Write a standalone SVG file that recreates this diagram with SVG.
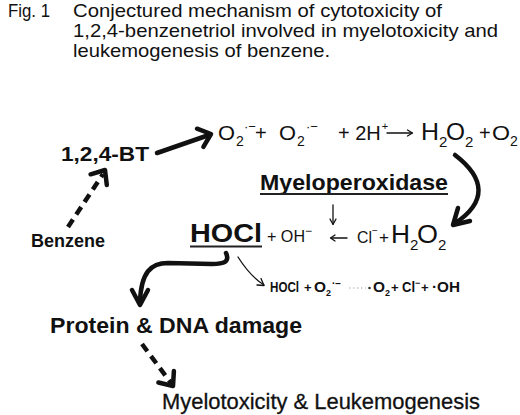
<svg xmlns="http://www.w3.org/2000/svg" width="520" height="415" viewBox="0 0 520 415">
<style>
text{font-family:"Liberation Sans",Arial,sans-serif;fill:#111}
.t{font-size:19px}
.b{font-weight:bold}
.thick{fill:none;stroke:#111;stroke-width:4.5;stroke-linecap:round;stroke-linejoin:round}
.dash{fill:none;stroke:#111;stroke-width:4.5;stroke-dasharray:9 6}
.thin{fill:none;stroke:#111;stroke-width:1.3;stroke-linecap:round;stroke-linejoin:round}
.ul{stroke:#222;stroke-width:2}
</style>
<rect width="520" height="415" fill="#fff"/>
<g id="title">
<text class="t" x="8" y="17" textLength="42" lengthAdjust="spacingAndGlyphs">Fig. 1</text>
<text class="t" x="73" y="17" textLength="369" lengthAdjust="spacingAndGlyphs">Conjectured mechanism of cytotoxicity of</text>
<text class="t" x="73" y="37" textLength="425" lengthAdjust="spacingAndGlyphs">1,2,4-benzenetriol involved in myelotoxicity and</text>
<text class="t" x="73" y="57" textLength="257" lengthAdjust="spacingAndGlyphs">leukemogenesis of benzene.</text>
</g>
<g id="bt"><text class="b" x="61" y="161" font-size="21" textLength="88" lengthAdjust="spacingAndGlyphs">1,2,4-BT</text></g>
<g id="benzene"><text class="b" x="31" y="247" font-size="18" textLength="74" lengthAdjust="spacingAndGlyphs">Benzene</text></g>
<g id="superoxide-eq">
<text x="218" y="140" font-size="21" textLength="17" lengthAdjust="spacingAndGlyphs">O</text>
<text x="236" y="146" font-size="14">2</text>
<text x="244" y="131" font-size="13">·−</text>
<text x="255" y="140" font-size="20">+</text>
<text x="279" y="140" font-size="21" textLength="17" lengthAdjust="spacingAndGlyphs">O</text>
<text x="297" y="146" font-size="14">2</text>
<text x="306" y="131" font-size="13">·−</text>
<text x="338" y="140" font-size="20">+ 2H<tspan font-size="11" dx="1" dy="-10">+</tspan></text>
<text x="421" y="140" font-size="24" textLength="18" lengthAdjust="spacingAndGlyphs">H</text>
<text x="439" y="147" font-size="15">2</text>
<text x="446" y="140" font-size="24" textLength="19" lengthAdjust="spacingAndGlyphs">O</text>
<text x="465" y="147" font-size="15">2</text>
<text x="479" y="140" font-size="20">+</text>
<text x="492" y="140" font-size="21" textLength="18" lengthAdjust="spacingAndGlyphs">O</text>
<text x="510" y="146" font-size="14">2</text>
</g>
<g id="myeloperoxidase">
<text class="b" x="260" y="190" font-size="22" textLength="188" lengthAdjust="spacingAndGlyphs">Myeloperoxidase</text>
<line class="ul" x1="260" y1="194" x2="448" y2="194"/>
</g>
<g id="hocl">
<text class="b" x="190" y="242" font-size="26" textLength="72" lengthAdjust="spacingAndGlyphs">HOCl</text>
<line class="ul" x1="190" y1="246.5" x2="262" y2="246.5" stroke-width="2.5"/>
<text x="267" y="242" font-size="16" textLength="38" lengthAdjust="spacingAndGlyphs">+ OH</text>
<text x="305" y="235" font-size="12">−</text>
</g>
<g id="cl-h2o2">
<text x="357" y="243" font-size="17" textLength="15" lengthAdjust="spacingAndGlyphs">Cl</text>
<text x="372" y="234" font-size="10">−</text>
<text x="379" y="243" font-size="17">+</text>
<text x="391" y="243" font-size="25" textLength="19" lengthAdjust="spacingAndGlyphs">H</text>
<text x="410" y="250" font-size="15">2</text>
<text x="417" y="243" font-size="25" textLength="21" lengthAdjust="spacingAndGlyphs">O</text>
<text x="438" y="250" font-size="15">2</text>
</g>
<g id="hocl-superoxide-eq">
<text class="b" x="270" y="292" font-size="14" textLength="29" lengthAdjust="spacingAndGlyphs">HOCl</text>
<text class="b" x="304" y="292" font-size="13">+</text>
<text class="b" x="314" y="292" font-size="14" textLength="12" lengthAdjust="spacingAndGlyphs">O</text>
<text class="b" x="326" y="296" font-size="9">2</text>
<text class="b" x="332" y="287" font-size="10">·−</text>
<text class="b" x="373" y="292" font-size="14" textLength="12" lengthAdjust="spacingAndGlyphs">O</text>
<text class="b" x="385" y="296" font-size="9">2</text>
<text class="b" x="391" y="292" font-size="13">+</text>
<text class="b" x="402" y="292" font-size="14" textLength="13" lengthAdjust="spacingAndGlyphs">Cl</text>
<text class="b" x="415" y="286" font-size="9">−</text>
<text class="b" x="421" y="292" font-size="13">+</text>
<text class="b" x="432" y="292" font-size="14" textLength="28" lengthAdjust="spacingAndGlyphs">·OH</text>
</g>
<g id="protein-dna">
<text class="b" x="50" y="333" font-size="22" textLength="252" lengthAdjust="spacingAndGlyphs">Protein &amp; DNA damage</text>
</g>
<g id="myelotoxicity">
<text x="162" y="409" font-size="22" textLength="318" lengthAdjust="spacingAndGlyphs" stroke="#111" stroke-width="0.3">Myelotoxicity &amp; Leukemogenesis</text>
</g>
<g id="connectors">
<line class="thick" x1="157" y1="153" x2="209" y2="135"/>
<polyline class="thick" points="197,128.7 211,134 203.4,146.9"/>
<line class="dash" x1="68" y1="227" x2="103" y2="174"/>
<polyline class="thick" points="90.6,174.3 105,170 106.8,184.9"/>
<line class="thin" x1="387" y1="133" x2="412" y2="133"/>
<polyline class="thin" points="407.5,130 412.5,133 407.5,136"/>
<path class="thick" d="M455,155 C485,178 488,202 454,224"/>
<polyline class="thick" points="458,208 453,225 470,221"/>
<line class="thin" x1="333" y1="205" x2="333" y2="224"/>
<polyline class="thin" points="330,219 333,224.5 336,219"/>
<line class="thin" x1="347" y1="238" x2="331" y2="238" stroke="#555" stroke-width="1"/>
<polyline class="thin" points="335,235 330.5,238 335,241" stroke="#555" stroke-width="1"/>
<path class="thick" d="M226,253 C230,262 224,264 212,264 L168,263 C151,263 141,272 140,302"/>
<polyline class="thick" points="132,290 140,305 148,290"/>
<path class="thin" d="M238,257 Q250,276 264,285"/>
<polyline class="thin" points="257,285 264,285.5 261,278.5"/>
<line x1="349" y1="288" x2="366" y2="288" stroke="#aaa" stroke-width="1.2" stroke-dasharray="1.5 2.5"/>
<circle cx="369.5" cy="288" r="1.3" fill="#333"/>
<line class="dash" x1="142" y1="344" x2="171" y2="383"/>
<polyline class="thick" points="158.4,382.5 173,386 173.9,371"/>
</g>
</svg>
